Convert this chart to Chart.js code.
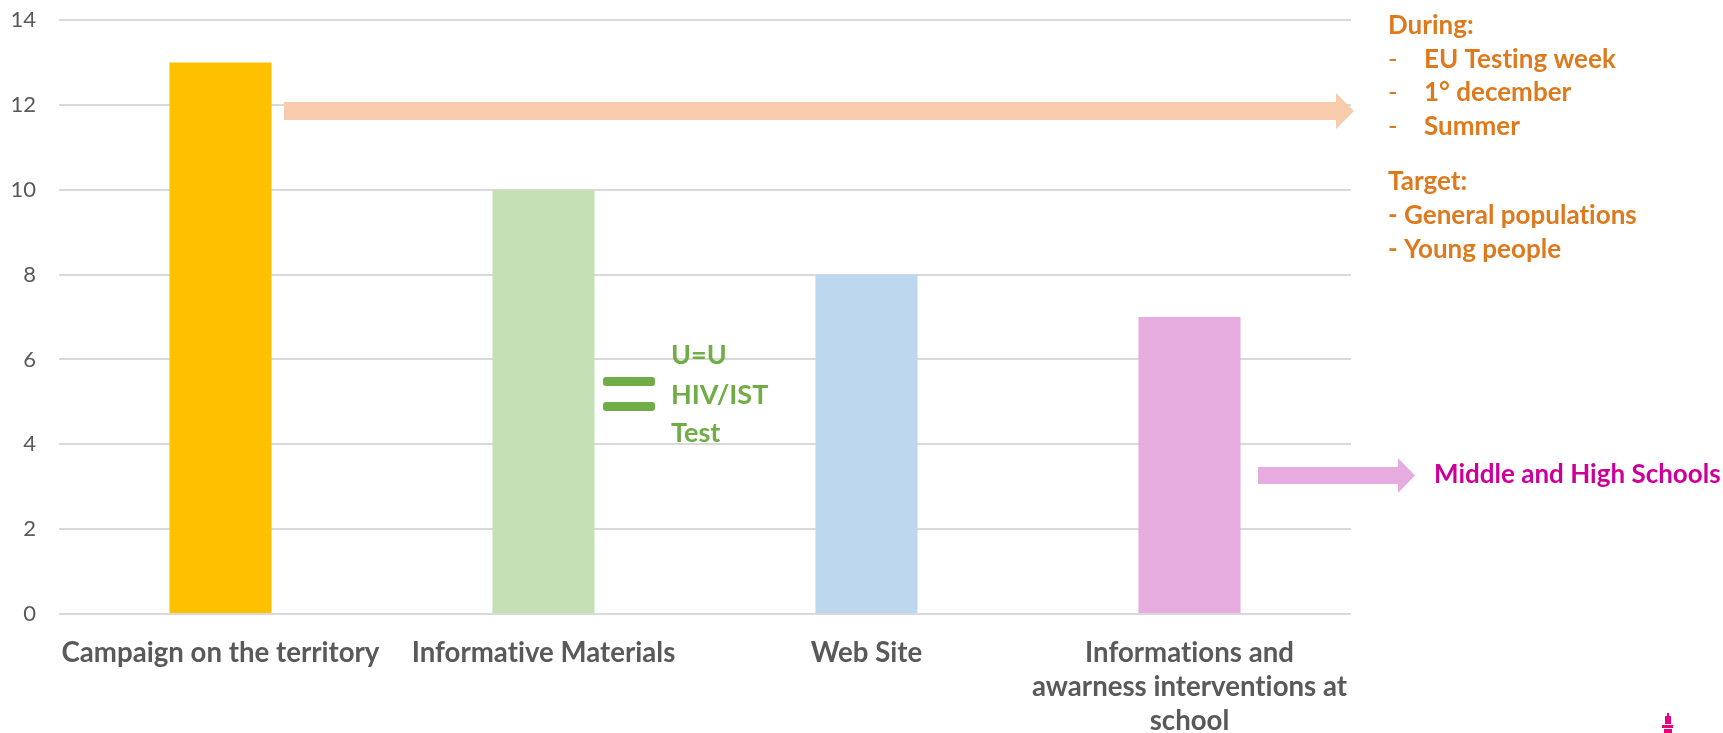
<!DOCTYPE html>
<html>
<head>
<meta charset="utf-8">
<style>
  html, body { margin: 0; padding: 0; background: #fff; }
  #wrap { position: relative; width: 1723px; height: 733px; }
</style>
<script src="https://cdn.jsdelivr.net/npm/chart.js@4"></script>
</head>
<body>
<div id="wrap"><canvas id="activityChart"></canvas></div>
<script>
const categories = [
  "Campaign on the territory",
  "Informative Materials",
  "Web Site",
  ["Informations and", "awarness interventions at", "school"],
];
const activityValues = [13, 10, 8, 7];
const barColors = ["#FFC000", "#C5E0B4", "#BDD7EE", "#E6ACE0"];
const yTicks = [0, 2, 4, 6, 8, 10, 12, 14];

const FONT = "Lato, Carlito, sans-serif";
const ORANGE = "#DD7A1E";
const GREEN = "#70AD47";
const PINK_TEXT = "#CC0099";

const duringLines = [
  { text: "During:", x: 1388, y: 26 },
  { text: "EU Testing week", x: 1424, y: 60, dash: true },
  { text: "1° december", x: 1424, y: 93, dash: true },
  { text: "Summer", x: 1424, y: 127, dash: true },
  { text: "Target:", x: 1388, y: 182 },
  { text: "- General populations", x: 1388, y: 216 },
  { text: "- Young people", x: 1388, y: 250 },
];
const uuLines = [
  { text: "U=U", x: 671, y: 355 },
  { text: "HIV/IST", x: 671, y: 395 },
  { text: "Test", x: 671, y: 433 },
];

function drawArrow(ctx, x0, x1, headX, bodyTop, bodyBottom, headTop, headBottom, color) {
  const mid = (bodyTop + bodyBottom) / 2;
  ctx.fillStyle = color;
  ctx.beginPath();
  ctx.moveTo(x0, bodyTop);
  ctx.lineTo(headX, bodyTop);
  ctx.lineTo(headX, headTop);
  ctx.lineTo(x1, mid);
  ctx.lineTo(headX, headBottom);
  ctx.lineTo(headX, bodyBottom);
  ctx.lineTo(x0, bodyBottom);
  ctx.closePath();
  ctx.fill();
}

// arrows, the equals sign and the side notes sit on top of the chart
const notesPlugin = {
  id: "notes",
  beforeDraw(chart) {
    // a tiny spacing switches off the "ti" ligature Lato would use
    chart.ctx.letterSpacing = "0.01px";
  },
  afterDraw(chart) {
    const ctx = chart.ctx;
    ctx.save();
    drawArrow(ctx, 284, 1354, 1336, 102, 120, 93, 129, "#F8CBAD");
    drawArrow(ctx, 1258, 1415, 1398, 467, 484, 458, 493, "#E6ACE0");

    ctx.fillStyle = GREEN;
    ctx.beginPath();
    ctx.roundRect(603, 377, 52, 9, 3);
    ctx.roundRect(603, 402, 52, 9, 3);
    ctx.fill();

    ctx.textBaseline = "middle";
    ctx.textAlign = "left";
    ctx.font = "bold 26px " + FONT;
    ctx.fillStyle = ORANGE;
    duringLines.forEach((l) => ctx.fillText(l.text, l.x, l.y));
    ctx.font = "26px " + FONT;
    duringLines.filter((l) => l.dash).forEach((l) => ctx.fillText("-", 1388, l.y));

    ctx.font = "bold 27px " + FONT;
    ctx.fillStyle = GREEN;
    uuLines.forEach((l) => ctx.fillText(l.text, l.x, l.y));

    ctx.font = "bold 26px " + FONT;
    ctx.fillStyle = PINK_TEXT;
    ctx.fillText("Middle and High Schools", 1434, 475);

    // small logo cut off at the bottom right
    ctx.fillStyle = "#E6007E";
    ctx.fillRect(1667, 713, 2, 3);
    ctx.fillRect(1665, 716, 6, 8);
    ctx.fillRect(1662, 725, 11, 3);
    ctx.fillRect(1664, 729, 8, 4);
    ctx.restore();
  },
};

new Chart(document.getElementById("activityChart"), {
  type: "bar",
  data: {
    labels: categories,
    datasets: [
      {
        data: activityValues,
        backgroundColor: barColors,
        categoryPercentage: 1,
        barPercentage: 0.316,
      },
    ],
  },
  options: {
    responsive: true,
    maintainAspectRatio: false,
    animation: false,
    layout: {
      autoPadding: false,
      padding: { left: 0, top: 20, right: 372, bottom: 0 },
    },
    plugins: {
      legend: { display: false },
      tooltip: { enabled: false },
    },
    scales: {
      x: {
        afterFit: (scale) => {
          scale.height = 119;
          scale.paddingLeft = 0;
          scale.paddingRight = 0;
        },
        grid: { display: false },
        border: { display: false },
        ticks: {
          color: "#595959",
          maxRotation: 0,
          autoSkip: false,
          padding: 14,
          font: { family: FONT, size: 27.6, weight: "bold", lineHeight: 1.23 },
        },
      },
      y: {
        min: 0,
        max: 14,
        afterFit: (scale) => {
          scale.width = 59;
          scale.paddingTop = 0;
          scale.paddingBottom = 0;
        },
        afterBuildTicks: (scale) => { scale.ticks = yTicks.map((v) => ({ value: v })); },
        grid: { color: "#D9D9D9", lineWidth: 2, drawTicks: false },
        border: { display: false },
        ticks: {
          color: "#595959",
          padding: 23,
          font: { family: FONT, size: 22 },
        },
      },
    },
  },
  plugins: [notesPlugin],
});
</script>
</body>
</html>
